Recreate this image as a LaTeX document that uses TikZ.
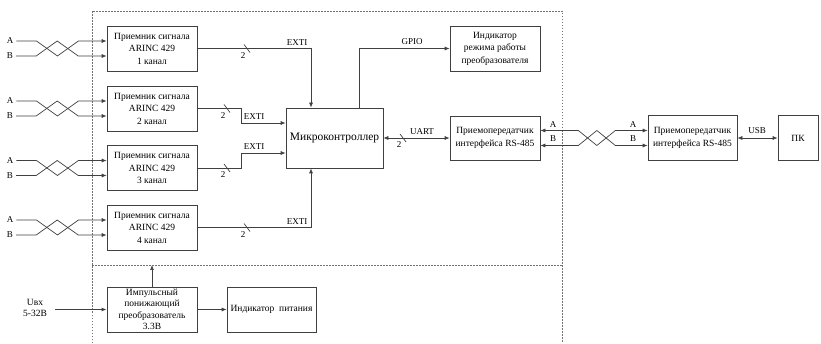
\documentclass[tikz,border=0pt]{standalone}
\usepackage{fontspec}
\setmainfont{Liberation Serif}
\usetikzlibrary{arrows.meta}
\begin{document}
\begin{tikzpicture}[x=1pt,y=-1pt,
  box/.style={draw=black!75, line width=0.7pt, minimum width=90pt, minimum height=45pt, align=center, inner sep=0pt, font=\fontsize{9.5}{12.5}\selectfont},
  con/.style={draw=black!75, line width=0.7pt},
  arr/.style={con, -{Latex[length=5pt,width=4pt]}},
  darr/.style={con, {Latex[length=5pt,width=4pt]}-{Latex[length=5pt,width=4pt]}},
  lbl/.style={font=\fontsize{9}{10}\selectfont, inner sep=0pt},
  framel/.style={draw=black!55, line width=0.8pt, dash pattern=on 1.5pt off 1.5pt},
  busmark/.pic={\draw[con] (-3,-4) -- (3,4); \node[lbl] at (-4,7) {2};}
  ]
\useasboundingbox (0,0) rectangle (821,344);

% dotted frame
\coordinate (fTL) at (92,11);
\coordinate (fTR) at (562,11);
\coordinate (fBL) at (92,343);
\coordinate (fBR) at (562,343);
\coordinate (mL) at (92,265);
\coordinate (mR) at (562,265);
\draw[framel] (fBL) -- (fTL) -- (fTR) -- (fBR);
\draw[framel] (mL) -- (mR);

% receivers
\node[box] (r1) at (152,48.5) {Приемник сигнала\\ARINC 429\\1 канал};
\node[box] (r2) at (152,108.5) {Приемник сигнала\\ARINC 429\\2 канал};
\node[box] (r3) at (152,168) {Приемник сигнала\\ARINC 429\\3 канал};
\node[box] (r4) at (152,227.5) {Приемник сигнала\\ARINC 429\\4 канал};

\foreach \i/\c in {1/48.5,2/108.5,3/168,4/227.5}{
  \node[lbl] (a\i) at (10,\c-7.5) {A};
  \node[lbl] (b\i) at (10,\c+7.5) {B};
  \draw[arr] ([xshift=3pt]a\i.east) -- ++(20,0) -- ++(21,15) -- ++(21,-15) -- (r\i.west |- a\i.east);
  \draw[arr] ([xshift=3pt]b\i.east) -- ++(20,0) -- ++(21,-15) -- ++(21,15) -- (r\i.west |- b\i.east);
}

% microcontroller and others
\node[box, minimum width=97pt, minimum height=60pt, font=\fontsize{11.5}{13}\selectfont] (mc) at (334.5,138) {Микроконтроллер};
\node[box] (ind) at (495,48.5) {Индикатор\\режима работы\\преобразователя};
\node[box, minimum height=44pt] (rs1) at (495,138) {Приемопередатчик\\интерфейса RS-485};
\node[box, minimum width=89pt] (rs2) at (692.5,138) {Приемопередатчик\\интерфейса RS-485};
\node[box, minimum width=40pt] (pc) at (798,138) {ПК};

% power
\node[box, font=\fontsize{9.5}{11.5}\selectfont] (pw) at (152,309.5) {Импульсный\\понижающий\\преобразователь\\3.3В};
\node[box, minimum width=89pt] (pind) at (271.5,309.5) {Индикатор\ \ питания};
\node[lbl, align=center, font=\fontsize{9.5}{11}\selectfont] (uin) at (35,308) {Uвх\\5-32В};
\coordinate (uinS) at (55,309.5);

% receiver -> MC
\draw[arr] (r1.east) -| ([xshift=-23.5pt]mc.north);
\draw[arr] (r2.east) -- ++(44,0) |- ([yshift=15pt]mc.west);
\draw[arr] (r3.east) -- ++(44,0) |- ([yshift=-15pt]mc.west);
\draw[arr] (r4.east) -| ([xshift=-23.5pt]mc.south);
\pic at (247,48.5) {busmark};
\pic at (227,108.5) {busmark};
\pic at (227,168) {busmark};
\pic at (247,227.5) {busmark};
\node[lbl] (e1) at (297,43) {EXTI};
\node[lbl] (e2) at (254,117) {EXTI};
\node[lbl] (e3) at (254,147) {EXTI};
\node[lbl] (e4) at (297,222) {EXTI};

% GPIO
\draw[arr] ([xshift=24.5pt]mc.north) |- (ind.west);
\node[lbl] (gpio) at (412,42) {GPIO};

% UART
\draw[darr] (mc.east) -- (rs1.west);
\pic at (403,138) {busmark};
\node[lbl] (uart) at (422,132) {UART};

% RS-485 line
\draw[darr] ([yshift=7.5pt]rs1.east) -- ++(38,0) -- ++(18.5,15) -- ++(18.5,-15) -- ([yshift=7.5pt]rs2.west);
\draw[darr] ([yshift=-7.5pt]rs1.east) -- ++(38,0) -- ++(18.5,-15) -- ++(18.5,15) -- ([yshift=-7.5pt]rs2.west);
\node[lbl] (ra1) at (553,125) {A};
\node[lbl] (rb1) at (553,139) {B};
\node[lbl] (ra2) at (633,125) {A};
\node[lbl] (rb2) at (633,139) {B};

% USB
\draw[darr] (rs2.east) -- (pc.west);
\node[lbl] (usb) at (757,131) {USB};

% power connections
\draw[arr] (pw.north) -- (pw.north |- mL);
\draw[arr, line width=1.2pt] (uinS) -- (pw.west);
\draw[arr] (pw.east) -- (pind.west);
\end{tikzpicture}
\end{document}
